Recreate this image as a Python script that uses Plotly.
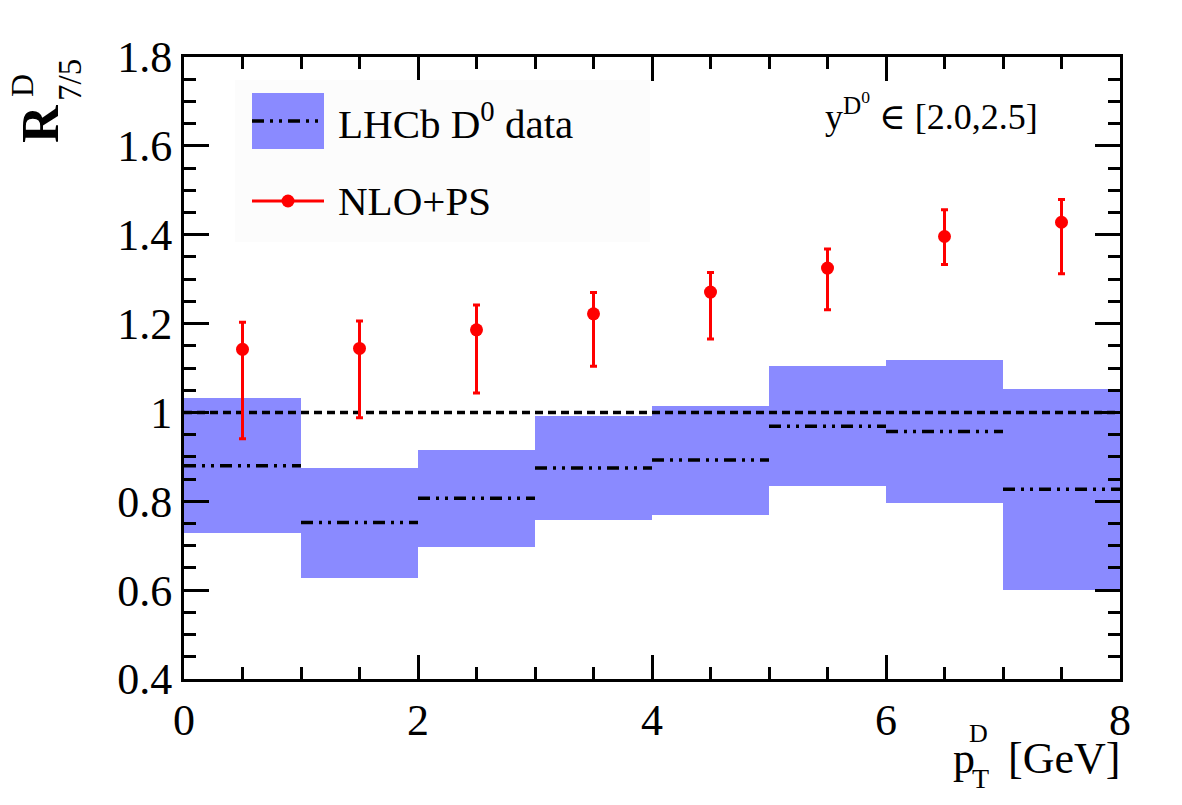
import plotly.graph_objects as go

# ---------------- data ----------------
bin_edges = [0, 1, 2, 3, 4, 5, 6, 7, 8]
bin_centers = [0.5, 1.5, 2.5, 3.5, 4.5, 5.5, 6.5, 7.5]

lhcb_central = [0.880, 0.752, 0.807, 0.875, 0.893, 0.969, 0.957, 0.827]
lhcb_upper = [1.032, 0.876, 0.916, 0.993, 1.015, 1.105, 1.117, 1.053]
lhcb_lower = [0.729, 0.627, 0.698, 0.757, 0.770, 0.834, 0.797, 0.600]

nlo_ps = [1.142, 1.144, 1.186, 1.222, 1.271, 1.325, 1.396, 1.428]
nlo_ps_upper = [1.203, 1.206, 1.242, 1.270, 1.315, 1.368, 1.456, 1.479]
nlo_ps_lower = [0.941, 0.988, 1.044, 1.104, 1.165, 1.231, 1.333, 1.312]

unity = [1.0, 1.0]

x_ticks = [0, 2, 4, 6, 8]
x_tick_labels = ["0", "2", "4", "6", "8"]
y_ticks = [0.4, 0.6, 0.8, 1.0, 1.2, 1.4, 1.6, 1.8]
y_tick_labels = ["0.4", "0.6", "0.8", "1", "1.2", "1.4", "1.6", "1.8"]

# ---------------- style ----------------
BLUE = "#8a8aff"
RED = "#ff0000"
FONT = "Liberation Serif, Times New Roman, Times, DejaVu Serif, serif"
DASHDOT = "12px,6px,3px,6px,3px,6px"

W, H = 1182, 805
ML, MR, MT, MB = 184, 62, 57, 126
PW, PH = W - ML - MR, H - MT - MB


def px(x):
    return (x - ML) / PW


def py(y):
    return (H - MB - y) / PH


fig = go.Figure()

# LHCb uncertainty boxes
widths = [bin_edges[i + 1] - bin_edges[i] for i in range(len(bin_centers))]
fig.add_trace(go.Bar(
    x=bin_centers,
    y=[u - l for u, l in zip(lhcb_upper, lhcb_lower)],
    base=lhcb_lower,
    width=widths,
    marker=dict(color=BLUE, line=dict(width=0)),
    showlegend=False,
    hoverinfo="skip",
))

# unity reference line
fig.add_trace(go.Scatter(
    x=[bin_edges[0], bin_edges[-1]], y=unity, mode="lines",
    line=dict(color="black", width=3.5, dash="8px,5px"),
    showlegend=False, hoverinfo="skip",
))

# LHCb central values (per-bin horizontal segments)
seg_x, seg_y = [], []
for i, c in enumerate(lhcb_central):
    seg_x += [bin_edges[i], bin_edges[i + 1], None]
    seg_y += [c, c, None]
fig.add_trace(go.Scatter(
    x=seg_x, y=seg_y, mode="lines",
    line=dict(color="black", width=3.5, dash=DASHDOT),
    showlegend=False, hoverinfo="skip",
))

# NLO+PS points
fig.add_trace(go.Scatter(
    x=bin_centers, y=nlo_ps, mode="markers",
    marker=dict(color=RED, size=13),
    error_y=dict(
        type="data", symmetric=False,
        array=[h - v for h, v in zip(nlo_ps_upper, nlo_ps)],
        arrayminus=[v - l for v, l in zip(nlo_ps, nlo_ps_lower)],
        color=RED, thickness=3, width=3.5,
    ),
    showlegend=False,
))

axis_common = dict(
    showline=True, linewidth=3, linecolor="black", mirror="ticks",
    ticks="inside", tickwidth=3, tickcolor="black",
    showgrid=False, zeroline=False,
    tickfont=dict(family=FONT, size=44, color="black"),
)

fig.update_xaxes(
    range=[0, 8], tickvals=x_ticks, ticktext=x_tick_labels, ticklen=24,
    minor=dict(dtick=0.5, ticklen=12, tickwidth=3, ticks="inside", tickcolor="black", showgrid=False),
    **axis_common,
)
fig.update_yaxes(
    range=[0.4, 1.8], tickvals=y_ticks, ticktext=y_tick_labels, ticklen=25,
    minor=dict(dtick=0.05, ticklen=12, tickwidth=3, ticks="inside", tickcolor="black", showgrid=False),
    **axis_common,
)

shapes = []
annotations = []

# legend box
shapes.append(dict(type="rect", xref="paper", yref="paper",
                   x0=px(235), x1=px(650), y0=py(242), y1=py(80),
                   fillcolor="#fcfcfc", line=dict(width=0), layer="above"))
shapes.append(dict(type="rect", xref="paper", yref="paper",
                   x0=px(252), x1=px(324), y0=py(149), y1=py(93),
                   fillcolor=BLUE, line=dict(width=0), layer="above"))
shapes.append(dict(type="line", xref="paper", yref="paper",
                   x0=px(252), x1=px(324), y0=py(121), y1=py(121),
                   line=dict(color="black", width=3.5, dash=DASHDOT), layer="above"))
shapes.append(dict(type="line", xref="paper", yref="paper",
                   x0=px(252), x1=px(324), y0=py(201), y1=py(201),
                   line=dict(color=RED, width=3), layer="above"))
shapes.append(dict(type="circle", xref="paper", yref="paper",
                   x0=px(288 - 6.5), x1=px(288 + 6.5), y0=py(201 + 6.5), y1=py(201 - 6.5),
                   fillcolor=RED, line=dict(width=0), layer="above"))

annotations.append(dict(xref="paper", yref="paper", x=px(336), y=py(121),
                        xanchor="left", yanchor="middle", showarrow=False,
                        text="LHCb D<sup>0</sup> data",
                        font=dict(family=FONT, size=41, color="black")))
annotations.append(dict(xref="paper", yref="paper", x=px(336), y=py(201),
                        xanchor="left", yanchor="middle", showarrow=False,
                        text="NLO+PS",
                        font=dict(family=FONT, size=41, color="black")))

# rapidity label
annotations.append(dict(xref="paper", yref="paper", x=px(823), y=py(112),
                        xanchor="left", yanchor="middle", showarrow=False,
                        text="y<sup>D<sup>0</sup></sup> \u2208 [2.0,2.5]",
                        font=dict(family=FONT, size=36, color="black")))

# y-axis title R^D_{7/5}
annotations.append(dict(xref="paper", yref="paper", x=px(40), y=py(124),
                        xanchor="center", yanchor="middle", showarrow=False,
                        textangle=-90, text="<b>R</b>",
                        font=dict(family=FONT, size=52, color="black")))
annotations.append(dict(xref="paper", yref="paper", x=px(22), y=py(86),
                        xanchor="center", yanchor="middle", showarrow=False,
                        textangle=-90, text="D",
                        font=dict(family=FONT, size=32, color="black")))
annotations.append(dict(xref="paper", yref="paper", x=px(70), y=py(80),
                        xanchor="center", yanchor="middle", showarrow=False,
                        textangle=-90, text="7/5",
                        font=dict(family=FONT, size=33, color="black")))

# x-axis title p_T^D [GeV]
annotations.append(dict(xref="paper", yref="paper", x=px(951), y=py(758),
                        xanchor="left", yanchor="middle", showarrow=False,
                        text="p", font=dict(family=FONT, size=44, color="black")))
annotations.append(dict(xref="paper", yref="paper", x=px(978), y=py(733),
                        xanchor="center", yanchor="middle", showarrow=False,
                        text="D", font=dict(family=FONT, size=26, color="black")))
annotations.append(dict(xref="paper", yref="paper", x=px(980), y=py(778),
                        xanchor="center", yanchor="middle", showarrow=False,
                        text="T", font=dict(family=FONT, size=28, color="black")))
annotations.append(dict(xref="paper", yref="paper", x=px(1122), y=py(758),
                        xanchor="right", yanchor="middle", showarrow=False,
                        text="[GeV]", font=dict(family=FONT, size=44, color="black")))

fig.update_layout(
    width=W, height=H, autosize=False,
    margin=dict(l=ML, r=MR, t=MT, b=MB, pad=0),
    paper_bgcolor="white", plot_bgcolor="white",
    bargap=0, barmode="overlay",
    showlegend=False,
    shapes=shapes, annotations=annotations,
    font=dict(family=FONT, color="black"),
)

fig.write_html("out.html")
